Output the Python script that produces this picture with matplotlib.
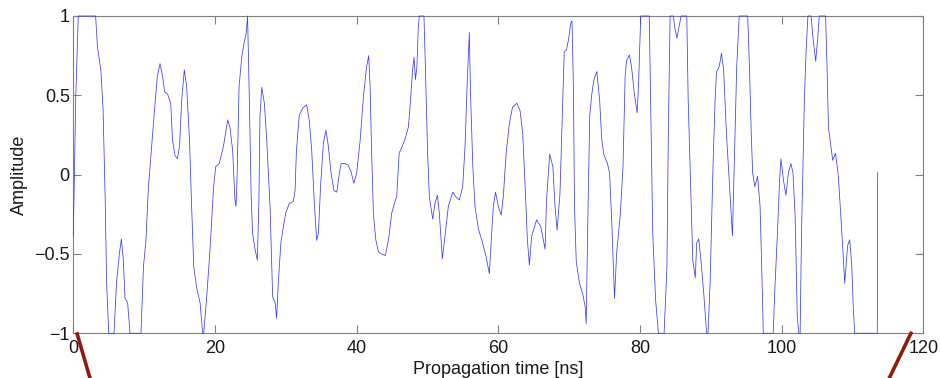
import matplotlib
matplotlib.use("Agg")
import matplotlib.pyplot as plt
from matplotlib.lines import Line2D

plt.rcParams['font.family'] = ['Liberation Sans', 'DejaVu Sans']

# propagation time [ns] and amplitude (saturated at +-1)
time_ns = [
    0, 0.35, 0.7, 3.15, 3.4, 3.9, 4.2, 4.5, 4.7, 5.0, 5.74, 6.1, 6.5, 6.78, 7.06, 7.3, 7.45, 7.67, 8.0,
    9.55, 9.9, 10.26, 10.6, 11.06, 11.5, 11.86, 12.24, 12.6, 12.9, 13.3, 13.55, 13.75, 14.0, 14.35, 14.7,
    15.0, 15.3, 15.67, 16.0, 16.4, 16.7, 17.0, 17.4, 17.9, 18.26, 18.4, 18.8, 19.3, 19.8, 20.1, 20.6,
    21.2, 21.8, 22.1, 22.5, 22.8, 22.96, 23.1, 23.4, 23.77, 24.1, 24.4, 24.6, 24.85, 25.1, 25.3, 25.65,
    25.98, 26.2, 26.35, 26.6, 26.97, 27.3, 27.77, 28.14, 28.5, 28.7, 28.94, 29.3, 29.65, 30.0, 30.5,
    31.06, 31.3, 31.5, 31.9, 32.4, 32.94, 33.3, 33.65, 34.0, 34.35, 34.6, 34.9, 35.3, 35.67, 36.0, 36.38,
    36.8, 37.2, 37.5, 37.8, 38.4, 38.8, 39.2, 39.6, 40.0, 40.5, 40.95, 41.4, 41.7, 41.9, 42.1, 42.36,
    42.7, 43.06, 43.5, 44.05, 44.5, 44.94, 45.4, 45.65, 46.0, 46.35, 46.8, 47.3, 47.5, 47.9, 48.1, 48.3,
    48.5, 48.7, 48.85, 49.5, 49.7, 50.0, 50.26, 50.73, 51.06, 51.4, 51.67, 52.1, 52.5, 52.94, 53.56,
    54.0, 54.5, 54.97, 55.3, 55.6, 55.9, 56.1, 56.4, 56.7, 57.2, 57.65, 58.26, 58.73, 59.06, 59.3, 59.6,
    60.0, 60.4, 60.7, 61.1, 61.55, 62.0, 62.6, 63.06, 63.44, 63.76, 64.1, 64.38, 64.7, 65.4, 66.0, 66.35,
    66.6, 66.8, 67.25, 67.7, 68.0, 68.3, 68.7, 69.1, 69.3, 69.6, 69.9, 70.2, 70.4, 70.6, 70.75, 71.0,
    71.45, 71.9, 72.25, 72.4, 72.6, 72.9, 73.2, 73.5, 73.9, 74.3, 74.6, 74.9, 75.4, 75.7, 76.0, 76.4,
    76.7, 77.2, 77.6, 77.9, 78.1, 78.5, 78.8, 79.2, 79.6, 79.8, 80.1, 81.3, 81.5, 81.8, 82.2, 82.6,
    83.4, 83.8, 84.0, 84.25, 84.7, 84.9, 85.2, 85.6, 85.8, 86.6, 86.8, 87.2, 87.45, 87.8, 88.0, 88.3,
    88.6, 89.0, 89.4, 89.6, 89.9, 90.3, 90.6, 90.8, 91.1, 91.3, 91.5, 91.8, 92.2, 92.7, 93.05, 93.3,
    93.65, 94.0, 95.2, 95.45, 95.7, 95.9, 96.2, 96.6, 96.95, 97.24, 97.4, 98.8, 99.07, 99.4, 99.7,
    99.9, 100.25, 100.6, 100.95, 101.3, 101.6, 101.9, 102.2, 102.4, 102.6, 102.8, 103.2, 103.45, 103.7,
    104.15, 104.4, 104.8, 105.1, 105.3, 106.2, 106.4, 106.6, 107.2, 107.6, 108.0, 108.5, 108.9, 109.3,
    109.6, 109.9, 110.1, 110.3, 113.5, 113.55,
]
amplitude = [
    -0.38, 0.5, 1.0, 1.0, 0.81, 0.65, 0.41, -0.16, -0.68, -1.0, -1.0, -0.68, -0.5, -0.405, -0.54, -0.78, -0.79, -0.81, -1.0,
    -1.0, -0.58, -0.41, -0.08, 0.18, 0.43, 0.62, 0.7, 0.62, 0.52, 0.51, 0.475, 0.45, 0.22, 0.12, 0.1,
    0.18, 0.47, 0.66, 0.555, 0.22, -0.2, -0.58, -0.71, -0.81, -1.0, -1.0, -0.79, -0.47, -0.08, 0.05, 0.07,
    0.18, 0.345, 0.3, 0.15, -0.15, -0.2, -0.05, 0.555, 0.74, 0.83, 0.89, 1.0, 0.47, -0.12, -0.37, -0.47,
    -0.54, -0.16, 0.37, 0.55, 0.45, 0.22, -0.2, -0.77, -0.81, -0.905, -0.68, -0.43, -0.33, -0.24, -0.18,
    -0.17, -0.1, 0.155, 0.375, 0.42, 0.44, 0.345, 0.155, -0.16, -0.415, -0.37, -0.075, 0.2, 0.28, 0.18, 0.01,
    -0.1, -0.11, -0.01, 0.07, 0.07, 0.06, 0.02, -0.055, 0.01, 0.22, 0.49, 0.68, 0.75, 0.55, 0.155, -0.245,
    -0.41, -0.485, -0.5, -0.51, -0.41, -0.245, -0.17, -0.14, 0.135, 0.17, 0.22, 0.3, 0.41, 0.66, 0.74, 0.6,
    0.68, 0.93, 1.0, 1.0, 0.68, 0.155, -0.14, -0.28, -0.18, -0.13, -0.245, -0.53, -0.37, -0.2, -0.11,
    -0.14, -0.16, -0.075, 0.18, 0.575, 0.895, 0.47, 0.05, -0.2, -0.345, -0.41, -0.515, -0.625, -0.37, -0.2, -0.11,
    -0.2, -0.255, -0.14, 0.135, 0.32, 0.425, 0.45, 0.405, 0.26, -0.055, -0.41, -0.57, -0.39, -0.285, -0.33, -0.41,
    -0.47, -0.16, 0.13, 0.05, -0.2, -0.35, -0.12, 0.47, 0.775, 0.785, 0.85, 0.95, 0.97, 0.55, -0.2, -0.55,
    -0.685, -0.75, -0.83, -0.94, -0.37, 0.37, 0.51, 0.6, 0.65, 0.47, 0.22, 0.125, 0.07, 0.01, -0.285, -0.78,
    -0.495, -0.26, 0.05, 0.62, 0.72, 0.755, 0.68, 0.51, 0.39, 0.575, 1.0, 1.0, 0.47, -0.37, -0.79, -1.0,
    -1.0, -0.58, 0.265, 1.0, 1.0, 0.93, 0.86, 0.955, 1.0, 1.0, 0.47, -0.16, -0.54, -0.65, -0.43, -0.405,
    -0.54, -0.75, -1.0, -1.0, -0.68, 0.05, 0.47, 0.65, 0.67, 0.71, 0.765, 0.66, 0.26, -0.12, -0.385, 0.05,
    0.68, 1.0, 1.0, 0.68, 0.26, 0.01, -0.075, -0.01, -0.2, -0.685, -1.0, -1.0, -0.685, -0.37, -0.035,
    0.1, -0.035, -0.13, 0.01, 0.07, 0.01, -0.265, -0.895, -1.0, -1.0, -0.37, 0.47, 0.785, 1.0,
    1.0, 0.87, 0.715, 0.87, 1.0, 1.0, 0.68, 0.3, 0.09, 0.135, -0.01, -0.37, -0.685, -0.45,
    -0.41, -0.58, -0.83, -1.0, -1.0, 0.013,
]

xticks = [0, 20, 40, 60, 80, 100, 120]
yticks = [-1, -0.5, 0, 0.5, 1]
ytick_labels = ['\u22121', '\u22120.5', '0', '0.5', '1']

fig = plt.figure(figsize=(9.4, 3.78), dpi=100)
ax = fig.add_axes([0.078, 0.1183, 0.9043, 0.8394])

ax.plot(time_ns, amplitude, color='#3a3aff', lw=0.55, zorder=3, clip_on=False)

ax.set_xlim(0, 120)
ax.set_ylim(-1, 1)
ax.set_xticks(xticks)
ax.set_yticks(yticks)
ax.set_yticklabels(ytick_labels)

grey = '#808080'
for s in ax.spines.values():
    s.set_color(grey)
    s.set_linewidth(0.8)
ax.tick_params(direction='in', length=6, width=0.8, color=grey, top=True, right=True,
               labelsize=13, labelcolor='#1a1a1a')
ax.tick_params(axis='x', pad=4.5)
ax.tick_params(axis='y', pad=2.5)

ax.set_xlabel('Propagation time [ns]', fontsize=13, color='#1a1a1a', labelpad=3)
ax.set_ylabel('Amplitude', fontsize=13, color='#1a1a1a')
ax.yaxis.set_label_coords(-0.053, 0.5)

# zoom connector lines from the enclosing figure
red = '#8e1b0e'
fig.add_artist(Line2D([76.7 / 940, 91 / 940], [1 - 332.3 / 378, -0.01], color=red, lw=2.6,
                      solid_capstyle='butt'))
fig.add_artist(Line2D([911.7 / 940, 887.5 / 940], [1 - 331.7 / 378, -0.01], color=red, lw=2.6,
                      solid_capstyle='butt'))

fig.savefig('out.png', dpi=100)
